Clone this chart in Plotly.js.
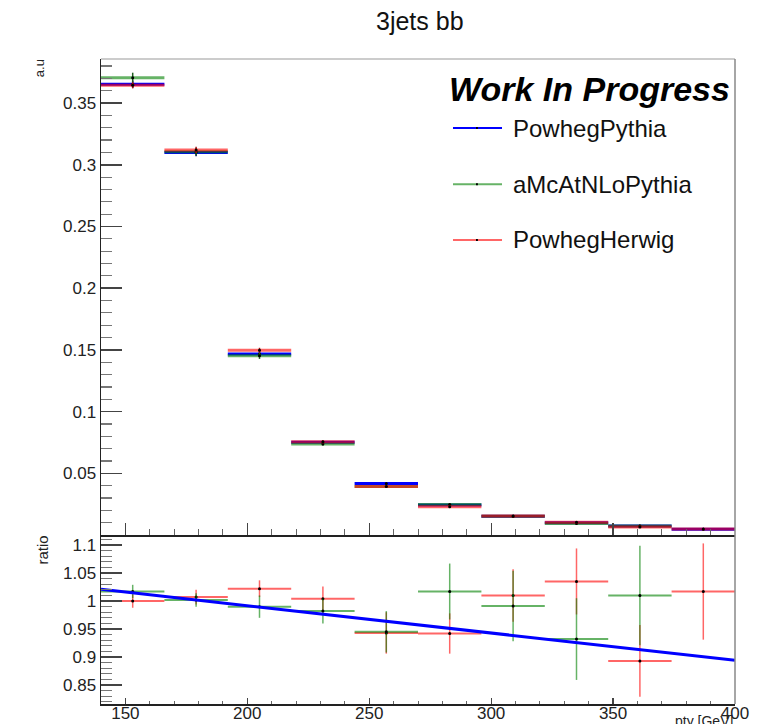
<!DOCTYPE html>
<html>
<head>
<meta charset="utf-8">
<script src="https://cdn.plot.ly/plotly-3.0.1.min.js"></script>
<style>html,body{margin:0;padding:0;background:#fff;}#chart{width:766px;height:724px;}</style>
</head>
<body>
<div id="chart"></div>
<script>
// ---- data ----
const binEdges = [140, 166, 192, 218, 244, 270, 296, 322, 348, 374, 400];
const seriesNames = ["PowhegPythia", "aMcAtNLoPythia", "PowhegHerwig"];
const powhegPythia   = [0.3652, 0.3100, 0.1467, 0.0752, 0.0417, 0.0243, 0.0152, 0.0100, 0.0072, 0.0047];
const amcatnloPythia = [0.3706, 0.3106, 0.1452, 0.0738, 0.0394, 0.0247, 0.0151, 0.0093, 0.0073, null];
const powhegHerwig   = [0.3644, 0.3120, 0.1497, 0.0755, 0.0393, 0.0229, 0.0154, 0.0103, 0.0064, 0.0048];
const powhegPythiaErr   = [0.003, 0.003, 0.002, 0.0012, 0.001, 0.0007, 0.0005, 0.0004, 0.0004, 0.0003];
const amcatnloPythiaErr = [0.004, 0.003, 0.0025, 0.0013, 0.001, 0.0008, 0.0006, 0.0005, 0.0005, null];
const powhegHerwigErr   = [0.0025, 0.0025, 0.002, 0.0012, 0.001, 0.0006, 0.0005, 0.0004, 0.0004, 0.0003];
const ratioAmcatnlo    = [1.017, 1.002, 0.990, 0.982, 0.945, 1.017, 0.991, 0.932, 1.010, null];
const ratioAmcatnloErr = [0.012, 0.012, 0.020, 0.022, 0.037, 0.050, 0.063, 0.073, 0.089, null];
const ratioHerwig      = [1.000, 1.007, 1.022, 1.004, 0.943, 0.942, 1.010, 1.035, 0.893, 1.017];
const ratioHerwigErr   = [0.012, 0.013, 0.015, 0.022, 0.037, 0.036, 0.047, 0.059, 0.064, 0.086];
const fitX = [140, 400];
const fitY = [1.021, 0.894];
const yTickVals = [0.05, 0.1, 0.15, 0.2, 0.25, 0.3, 0.35];
const yTickText = ["0.05", "0.1", "0.15", "0.2", "0.25", "0.3", "0.35"];
const rTickVals = [0.85, 0.9, 0.95, 1, 1.05, 1.1];
const rTickText = ["0.85", "0.9", "0.95", "1", "1.05", "1.1"];
const xTickVals = [150, 200, 250, 300, 350, 400];
const xTickText = ["150", "200", "250", "300", "350", "400"];

// ---- derived ----
const centers = binEdges.slice(0, -1).map((e, i) => (e + binEdges[i + 1]) / 2);
const halfW = binEdges.slice(0, -1).map((e, i) => (binEdges[i + 1] - e) / 2);

const FONT = "Liberation Sans, Arial, Helvetica, sans-serif";
const lineColors = ["#0000ff", "rgba(0,128,0,0.6)", "rgba(255,0,0,0.6)"];
const errColors = ["#00007a", "#1e5e1e", "#a01818"];

function histTrace(y, err, i, xa, ya, lw, ec) {
  return {
    type: "scatter", mode: "markers", x: centers, y: y,
    xaxis: xa, yaxis: ya, showlegend: false, hoverinfo: "skip",
    marker: {size: 3, color: "#000"},
    error_x: {type: "data", array: halfW, symmetric: true, color: lineColors[i], thickness: lw, width: 0},
    error_y: {type: "data", array: err, symmetric: true, color: ec, thickness: 1.5, width: 0}
  };
}

const data = [
  histTrace(powhegPythia, powhegPythiaErr, 0, "x", "y", 3, errColors[0]),
  histTrace(amcatnloPythia, amcatnloPythiaErr, 1, "x", "y", 3, errColors[1]),
  histTrace(powhegHerwig, powhegHerwigErr, 2, "x", "y", 3, errColors[2]),
  histTrace(ratioHerwig, ratioHerwigErr, 2, "x2", "y2", 2, "rgba(255,0,0,0.6)"),
  histTrace(ratioAmcatnlo, ratioAmcatnloErr, 1, "x2", "y2", 2, "rgba(0,128,0,0.6)"),
  {type: "scatter", mode: "lines", x: fitX, y: fitY, xaxis: "x2", yaxis: "y2",
   showlegend: false, hoverinfo: "skip", line: {color: "#0000ff", width: 3}}
];

const split = 0.262;
const tickFont = {family: FONT, size: 17, color: "#222"};

// manual legend (ROOT style)
const legY = [0.893, 0.806, 0.7194];
const shapes = [
  {type: "line", xref: "paper", yref: "paper", x0: 0, x1: 1, y0: 1, y1: 1, line: {color: "#bbb", width: 1.5}},
  {type: "line", xref: "paper", yref: "paper", x0: 1, x1: 1, y0: 0, y1: 1, line: {color: "#888", width: 1.5}}
];
const annotations = [
  {text: "<b><i>Work In Progress</i></b>", xref: "paper", yref: "paper", x: 0.546, y: 0.9535,
   xanchor: "left", yanchor: "middle", showarrow: false, font: {family: FONT, size: 34, color: "#000"}},
  {text: "a.u", xref: "paper", yref: "paper", x: -0.097, y: 0.985, textangle: -90,
   xanchor: "center", yanchor: "middle", showarrow: false, font: {family: FONT, size: 13, color: "#222"}},
  {text: "ratio", xref: "paper", yref: "paper", x: -0.092, y: 0.239, textangle: -90,
   xanchor: "center", yanchor: "middle", showarrow: false, font: {family: FONT, size: 15, color: "#222"}},
  {text: "pty [GeV]", xref: "paper", yref: "paper", x: 1.0, y: -0.011,
   xanchor: "right", yanchor: "top", showarrow: false, font: {family: FONT, size: 14, color: "#222"}}
];
seriesNames.forEach((name, i) => {
  shapes.push({type: "line", xref: "paper", yref: "paper", x0: 0.5552, x1: 0.6325, y0: legY[i], y1: legY[i],
               line: {color: lineColors[i], width: 2}});
  shapes.push({type: "line", xref: "paper", yref: "paper", x0: 0.5915, x1: 0.5945, y0: legY[i], y1: legY[i],
               line: {color: "#000", width: 2}});
  annotations.push({text: name, xref: "paper", yref: "paper", x: 0.646, y: legY[i],
                    xanchor: "left", yanchor: "middle", showarrow: false,
                    font: {family: FONT, size: 24, color: "#111"}});
});

const layout = {
  width: 766, height: 724,
  margin: {l: 101, r: 31, t: 59, b: 20},
  paper_bgcolor: "#fff", plot_bgcolor: "#fff",
  font: {family: FONT},
  showlegend: false,
  title: {text: "3jets bb", x: 0.548, xanchor: "center", xref: "container", y: 0.97, yanchor: "middle",
          font: {family: FONT, size: 25, color: "#111"}},
  xaxis: {domain: [0, 1], anchor: "y", range: [140, 400], showticklabels: false,
          tickmode: "array", tickvals: xTickVals, ticks: "inside", ticklen: 12, tickcolor: "#444", tickwidth: 1.2,
          minor: {ticks: "inside", ticklen: 6, dtick: 10, tick0: 0, tickcolor: "#666", tickwidth: 1},
          showline: true, linecolor: "#222", linewidth: 1.5, showgrid: false, zeroline: false},
  yaxis: {domain: [split, 1], anchor: "x", range: [0, 0.3857],
          tickmode: "array", tickvals: yTickVals, ticktext: yTickText, tickfont: tickFont,
          ticks: "inside", ticklen: 21, tickcolor: "#444", tickwidth: 1.5,
          minor: {ticks: "inside", ticklen: 11, dtick: 0.01, tick0: 0, tickcolor: "#777", tickwidth: 1.2},
          showline: true, linecolor: "#222", linewidth: 1.5, showgrid: false, zeroline: false},
  xaxis2: {domain: [0, 1], anchor: "y2", range: [140, 400],
           tickmode: "array", tickvals: xTickVals, ticktext: xTickText, tickfont: tickFont,
           ticklabelstandoff: -7,
           ticks: "inside", ticklen: 6, tickcolor: "#444", tickwidth: 1.2,
           minor: {ticks: "inside", ticklen: 3, dtick: 10, tick0: 0, tickcolor: "#666", tickwidth: 1},
           showline: true, linecolor: "#222", linewidth: 1.5, showgrid: false, zeroline: false},
  yaxis2: {domain: [0, split], anchor: "x2", range: [0.816, 1.118],
           tickmode: "array", tickvals: rTickVals, ticktext: rTickText, tickfont: tickFont,
           ticks: "inside", ticklen: 21, tickcolor: "#444", tickwidth: 1.5,
           minor: {ticks: "inside", ticklen: 11, dtick: 0.01, tick0: 0, tickcolor: "#777", tickwidth: 1.2},
           showline: true, linecolor: "#222", linewidth: 1.5, showgrid: false, zeroline: false},
  shapes: shapes,
  annotations: annotations
};

Plotly.newPlot("chart", data, layout, {displayModeBar: false, staticPlot: true});
</script>
</body>
</html>
